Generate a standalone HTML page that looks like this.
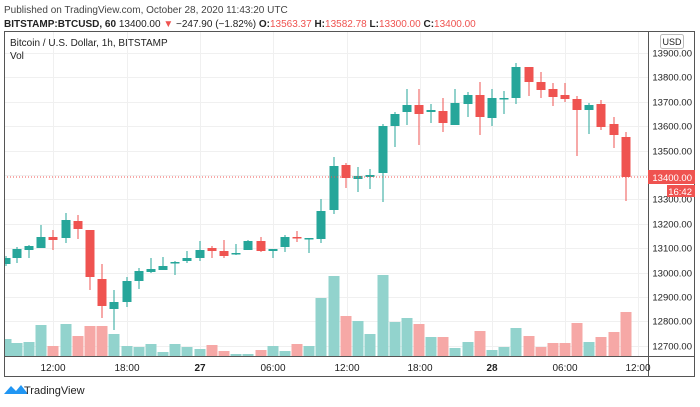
<!DOCTYPE html>
<html><head><meta charset="utf-8"><style>
body{margin:0;background:#fff;width:700px;height:402px;overflow:hidden;font-family:"Liberation Sans",sans-serif}
</style></head><body>
<svg id="s" width="700" height="402" xmlns="http://www.w3.org/2000/svg" font-family="Liberation Sans, sans-serif">
<text x="4" y="13" font-size="10" fill="#444">Published on TradingView.com, October 28, 2020 11:43:20 UTC</text>
<text x="4" y="27" font-size="10" fill="#222"><tspan font-weight="bold">BITSTAMP:BTCUSD, 60</tspan> 13400.00 <tspan fill="#ef5350">▼</tspan> −247.90 (−1.82%) <tspan font-weight="bold">O:</tspan><tspan fill="#ef5350">13563.37</tspan> <tspan font-weight="bold">H:</tspan><tspan fill="#ef5350">13582.78</tspan> <tspan font-weight="bold">L:</tspan><tspan fill="#ef5350">13300.00</tspan> <tspan font-weight="bold">C:</tspan><tspan fill="#ef5350">13400.00</tspan></text>
<g id="grid"></g>
<g id="vol"></g>
<g id="c"></g>
<line x1="4" y1="177" x2="648" y2="177" stroke="#ef5350" stroke-dasharray="1,2" stroke-width="1"/>
<rect x="4.5" y="31.5" width="690" height="345" fill="none" stroke="#555"/>
<line x1="648.5" y1="31" x2="648.5" y2="376" stroke="#555"/>
<line x1="4" y1="356.5" x2="695" y2="356.5" stroke="#555"/>
<text x="10" y="46" font-size="10" fill="#222">Bitcoin / U.S. Dollar, 1h, BITSTAMP</text>
<text x="10" y="59" font-size="10" fill="#222">Vol</text>
<rect x="660.5" y="34.5" width="23" height="14" rx="2" fill="#fff" stroke="#bbb"/>
<text x="672" y="45" font-size="9" text-anchor="middle" fill="#222">USD</text>
<g id="pl" font-size="9.5" fill="#222" text-anchor="end"></g>
<rect x="648" y="170" width="47" height="14" fill="#ef5350"/>
<text x="692" y="181" font-size="9.5" fill="#fff" text-anchor="end">13400.00</text>
<rect x="667" y="185" width="28" height="12" fill="#ef5350"/>
<text x="692" y="195" font-size="9.5" fill="#fff" text-anchor="end">16:42</text>
<g font-size="10" fill="#222" text-anchor="middle">
<text x="53" y="371">12:00</text><text x="127" y="371">18:00</text><text x="200" y="371" font-weight="bold">27</text><text x="273" y="371">06:00</text><text x="347" y="371">12:00</text><text x="420" y="371">18:00</text><text x="492" y="371" font-weight="bold">28</text><text x="565" y="371">06:00</text><text x="638" y="371">12:00</text>
</g>
<path d="M4 394 L11 386 L16 391 L21 385 L28 394 Z" fill="#2196f3"/>
<text x="24" y="394" font-size="11" fill="#222">TradingView</text>
</svg>
<script>
var NS="http://www.w3.org/2000/svg";
function el(g,t,a){var e=document.createElementNS(NS,t);for(var k in a)e.setAttribute(k,a[k]);document.getElementById(g).appendChild(e);}
// grid
[53,127,200,273,347,420,492,565,638].forEach(function(x){el("grid","line",{x1:x+.5,y1:32,x2:x+.5,y2:356,stroke:"#f0f0f0"});});
var p=13900;for(var y=53;y<360;y+=24.4){el("grid","line",{x1:5,y1:Math.round(y)+.5,x2:648,y2:Math.round(y)+.5,stroke:"#f0f0f0"});
var t=document.createElementNS(NS,"text");t.setAttribute("x",692);t.setAttribute("y",Math.round(y)+3.5);t.textContent=p.toFixed(2);
if(p!=13400)document.getElementById("pl").appendChild(t);p-=100;}
// candles: [x, dir, bodyTop, bodyBot, wickTop, wickBot, volTop]
var C=[[6,1,258,264,256,266,339],[17,1,249,258,247,263,343],[29,1,246,250,245,258,342],[41,1,237,248,225,248,325],[53,0,237,240,230,250,346],[66,1,220,238,213,243,324],[78,0,221,229,215,239,336],[90,0,230,277,230,290,326],[102,0,279,306,264,318,326],[114,1,302,309,290,330,334],[127,1,281,302,277,307,346],[139,1,271,281,268,289,347],[151,1,269,272,258,273,344],[163,1,266,270,257,270,352],[175,1,262,263.5,261,275,344],[187,1,258,261,251,263,347],[200,1,250,258,241,261,349],[212,0,248,251,246,258,345],[224,0,251,256,240,258,351],[236,1,253,254.5,244,255,354],[248,1,241,250,240,250,354],[261,0,241,251,237,252,350],[273,1,249,251,249,258,346],[285,1,237,247,235,252,351],[297,0,237,238.5,231,242,344],[309,1,238,239.5,238,253,346],[321,1,211,239,199,243,298],[334,1,166,210,157,214,276],[346,0,165,178,163,188,316],[358,1,176,179,167,192,321],[370,1,175,177,169,189,334],[383,1,126,173,124,202,275],[395,1,114,126,112,147,322],[407,1,105,112,89,125,318],[419,0,105,114,89,145,324],[431,1,110,112,104,123,337],[443,0,111,123,98,132,337],[455,1,103,125,89,125,348],[468,1,95,104,92,117,342],[480,0,95,117,82,135,331],[492,1,98,118,89,126,350],[504,1,98,99.5,91,114,347],[516,1,67,98,63,104,328],[529,0,67,82,67,96,336],[541,0,82,90,72,98,347],[553,0,89,97,83,106,343],[565,0,95,99,83,102,343],[577,0,99,110,96,156,323],[589,1,105,110,103,134,342],[601,0,104,127,100,130,337],[614,0,124,135,117,148,332],[626,0,137,177,132,201,312]];
C.forEach(function(c){var col=c[1]?"#26a69a":"#ef5350",vc=c[1]?"#92d3cd":"#f6a8a6";
var x0=Math.max(5,c[0]-5.5),w=c[0]+5.5-x0;
el("vol","rect",{x:x0,y:c[6],width:w,height:356-c[6],fill:vc});
el("c","line",{x1:c[0],y1:c[4],x2:c[0],y2:c[5],stroke:col,"stroke-width":1});
var bx=Math.max(5,c[0]-4.5);el("c","rect",{x:bx,y:c[2],width:c[0]+4.5-bx,height:Math.max(1.5,c[3]-c[2]),fill:col});});
</script>
</body></html>
